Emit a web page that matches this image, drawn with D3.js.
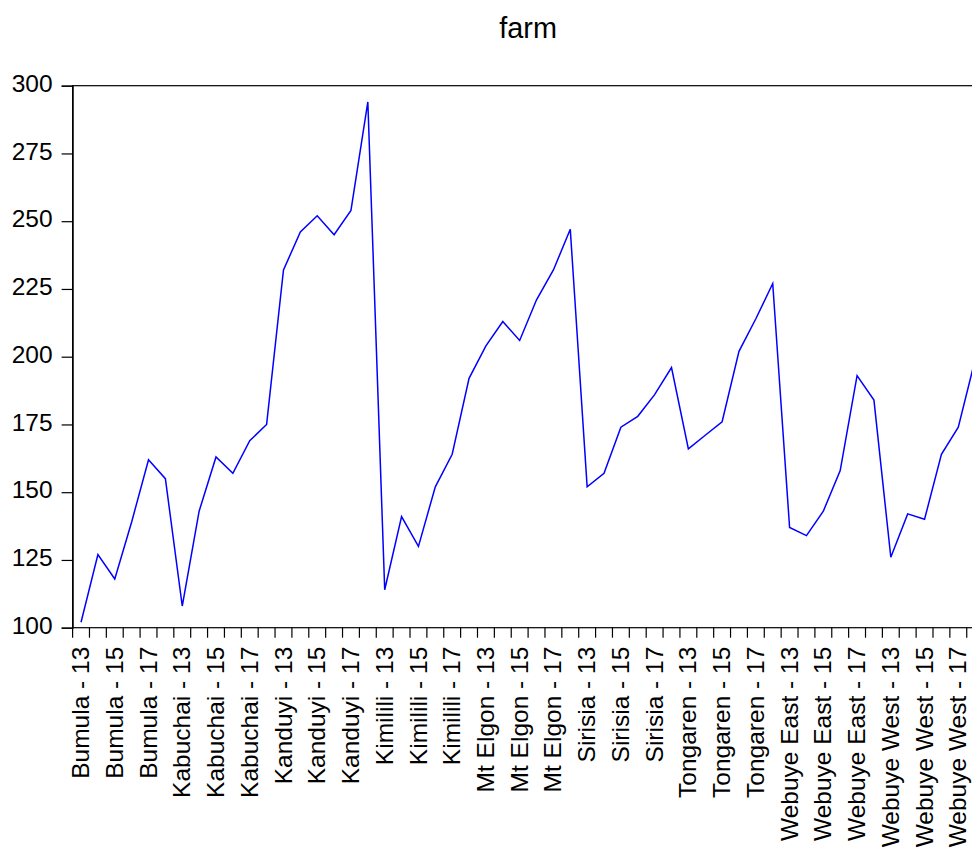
<!DOCTYPE html>
<html>
<head>
<meta charset="utf-8">
<script src="https://cdn.jsdelivr.net/npm/d3@7"></script>
<style>
  html, body { margin: 0; padding: 0; background: #fff; overflow: hidden; }
  svg { display: block; font-family: "Liberation Sans", Arial, sans-serif; }
</style>
</head>
<body>
<div id="chart"></div>
<script>
// ---- data ----
const title = "farm";
const regions = ["Bumula", "Kabuchai", "Kanduyi", "Kimilili", "Mt Elgon", "Sirisia", "Tongaren", "Webuye East", "Webuye West"];
const years = ["13", "14", "15", "16", "17", "18"];
const labelledYears = ["13", "15", "17"];
const farm = [
  102, 127, 118, 139, 162, 155,   // Bumula
  108, 143, 163, 157, 169, 175,   // Kabuchai
  232, 246, 252, 245, 254, 294,   // Kanduyi
  114, 141, 130, 152, 164, 192,   // Kimilili
  204, 213, 206, 221, 232, 247,   // Mt Elgon
  152, 157, 174, 178, 186, 196,   // Sirisia
  166, 171, 176, 202, 214, 227,   // Tongaren
  137, 134, 143, 158, 193, 184,   // Webuye East
  126, 142, 140, 164, 174, 199    // Webuye West
];
const yTicks = [100, 125, 150, 175, 200, 225, 250, 275, 300];

// ---- build ----
(function () {
  const categories = [];
  regions.forEach(r => years.forEach(yr => categories.push({ key: r + " - " + yr, year: yr })));
  const data = categories.map((c, i) => ({ key: c.key, year: c.year, value: farm[i] }));

  const W = 972, H = 850;
  const pL = 72.6, pR = 983.6, pT = 85.7, pB = 627.7;

  const svg = d3.select("#chart").append("svg")
    .attr("width", W).attr("height", H);

  const x = d3.scaleBand().domain(data.map(d => d.key)).range([pL, pR]).padding(0);
  const y = d3.scaleLinear().domain([100, 300]).range([pB, pT]);

  // title
  svg.append("text")
    .attr("x", (pL + pR) / 2).attr("y", 38)
    .attr("text-anchor", "middle")
    .style("font-size", "28.8px").style("fill", "#000")
    .text(title);

  // frame
  svg.append("rect")
    .attr("x", pL).attr("y", pT)
    .attr("width", pR - pL).attr("height", pB - pT)
    .attr("fill", "none").attr("stroke", "#000").attr("stroke-width", 1.2);

  // y axis
  const yAxis = svg.append("g")
    .attr("transform", `translate(${pL},0)`)
    .call(d3.axisLeft(y).tickValues(yTicks).tickSize(11).tickPadding(9).tickFormat(d3.format("d")));
  yAxis.select(".domain").attr("stroke", "#000").attr("stroke-width", 1.2);
  yAxis.selectAll(".tick line").attr("stroke", "#000").attr("stroke-width", 1.2);
  yAxis.selectAll(".tick text")
    .attr("dy", "0.23em")
    .style("font-size", "24.5px").style("fill", "#000")
    .style("font-family", "'Liberation Sans', Arial, sans-serif");

  // x axis ticks at band edges
  const edges = data.map(d => x(d.key)).concat([x(data[data.length - 1].key) + x.bandwidth()]);
  const xAxis = svg.append("g");
  xAxis.selectAll("line.xt").data(edges).join("line")
    .attr("class", "xt")
    .attr("x1", d => d).attr("x2", d => d)
    .attr("y1", pB).attr("y2", pB + 10)
    .attr("stroke", "#000").attr("stroke-width", 1.2);

  // x labels (every other)
  xAxis.selectAll("text.xl").data(data.filter(d => labelledYears.includes(d.year))).join("text")
    .attr("class", "xl")
    .attr("transform", d => `translate(${x(d.key) + x.bandwidth() / 2},${pB + 19}) rotate(-90)`)
    .attr("text-anchor", "end")
    .attr("dy", "0.33em")
    .style("font-size", "24.5px").style("fill", "#000")
    .text(d => d.key);

  // line
  const line = d3.line()
    .x(d => x(d.key) + x.bandwidth() / 2)
    .y(d => y(d.value));
  svg.append("path")
    .datum(data)
    .attr("d", line)
    .attr("fill", "none")
    .attr("stroke", "#0000ff")
    .attr("stroke-width", 1.5)
    .attr("stroke-linejoin", "miter");
})();
</script>
</body>
</html>
